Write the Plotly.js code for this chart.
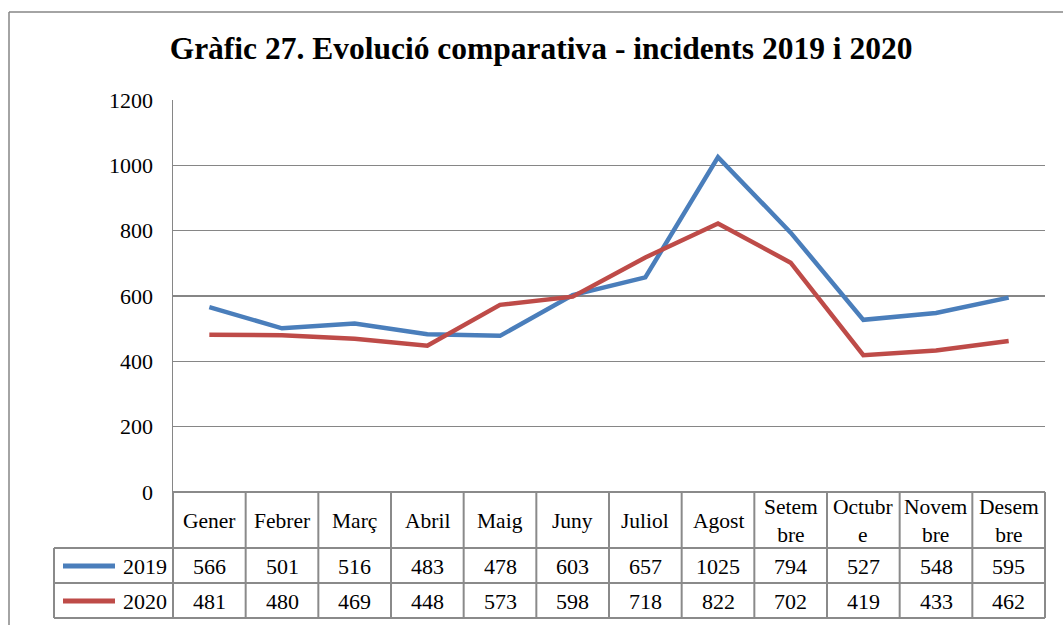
<!DOCTYPE html>
<html><head><meta charset="utf-8">
<script src="https://cdn.plot.ly/plotly-3.0.1.min.js"></script>
<style>html,body{margin:0;padding:0;background:#fff}</style>
</head><body>
<div id="chart" style="width:1063px;height:625px"></div>
<script>
const months = ["Gener","Febrer","Març","Abril","Maig","Juny","Juliol","Agost","Setembre","Octubre","Novembre","Desembre"];
const headerLabels = ["Gener","Febrer","Març","Abril","Maig","Juny","Juliol","Agost","Setem<br>bre","Octubr<br>e","Novem<br>bre","Desem<br>bre"];
const series2019 = [566,501,516,483,478,603,657,1025,794,527,548,595];
const series2020 = [481,480,469,448,573,598,718,822,702,419,433,462];
const seriesNames = ["2019","2020"];
const colors = ["#4a7ebb","#be4b48"];

const FONT = "Liberation Serif, Times New Roman, serif";
const W = 1063, H = 625, L = 173, R = 18, T = 100, B = 133;
const pw = W - L - R, ph = H - T - B;
const px = v => (v - L) / pw;          // pixel x -> paper
const py = v => (H - B - v) / ph;      // pixel y -> paper
const gridCol = "#868686", tableCol = "#8a8a8a";

const traces = [series2019, series2020].map((s, k) => ({
  x: months, y: s, type: "scatter", mode: "lines", name: seriesNames[k],
  line: {color: colors[k], width: 4.5}, hoverinfo: "x+y"
}));

const shapes = [];
const annotations = [];
// chart frame
shapes.push({type:"line", xref:"paper", yref:"paper", x0:px(9), x1:px(1063), y0:py(12), y1:py(12), line:{color:gridCol,width:1.5}});
shapes.push({type:"line", xref:"paper", yref:"paper", x0:px(9), x1:px(9), y0:py(12), y1:py(625), line:{color:gridCol,width:1.5}});

const rowY = [py(548), py(583), py(618)];
// horizontal table lines
shapes.push({type:"line", xref:"paper", yref:"paper", x0:0, x1:1, y0:0, y1:0, line:{color:tableCol,width:2}});
rowY.forEach(y => shapes.push({type:"line", xref:"paper", yref:"paper", x0:px(54), x1:1, y0:y, y1:y, line:{color:tableCol,width:2}}));
// vertical table lines
for (let i = 0; i <= months.length; i++) {
  const xp = i / months.length;
  shapes.push({type:"line", xref:"paper", yref:"paper", x0:xp, x1:xp, y0:0, y1:rowY[2], line:{color:tableCol,width:2}});
}
shapes.push({type:"line", xref:"paper", yref:"paper", x0:px(54), x1:px(54), y0:rowY[0], y1:rowY[2], line:{color:tableCol,width:2}});

// header labels
months.forEach((m, i) => {
  annotations.push({x:m, xref:"x", yref:"paper", y:py(521), text:headerLabels[i], showarrow:false,
    font:{family:FONT, size:21.5, color:"#000"}, yanchor:"middle", xanchor:"center"});
});
// value rows
[series2019, series2020].forEach((s, k) => {
  const yc = py(566 + 35*k);
  s.forEach((v, i) => annotations.push({x:months[i], xref:"x", yref:"paper", y:yc, text:String(v), showarrow:false,
    font:{family:FONT, size:22, color:"#000"}, yanchor:"middle", xanchor:"center"}));
  shapes.push({type:"line", xref:"paper", yref:"paper", x0:px(63), x1:px(115), y0:yc, y1:yc, line:{color:colors[k], width:5}});
  annotations.push({x:px(169), xref:"paper", yref:"paper", y:yc, text:seriesNames[k], showarrow:false,
    font:{family:FONT, size:22, color:"#000"}, xanchor:"right", yanchor:"middle"});
});

const layout = {
  width: W, height: H,
  margin: {l:L, r:R, t:T, b:B},
  paper_bgcolor: "#fff", plot_bgcolor: "#fff",
  showlegend: false,
  title: {text:"<b>Gràfic 27. Evolució comparativa - incidents 2019 i 2020</b>", x:0.509, xanchor:"center", y:0.924, yanchor:"middle",
    font:{family:FONT, size:31.5, color:"#000"}},
  xaxis: {range:[-0.5, 11.5], showticklabels:false, showgrid:false, zeroline:false, showline:false, ticks:""},
  yaxis: {range:[0,1200], dtick:200, tick0:0, showgrid:true, gridcolor:gridCol, gridwidth:1.5, zeroline:false,
    showline:true, linecolor:gridCol, linewidth:1.5, ticks:"", ticklabelstandoff:14,
    tickfont:{family:FONT, size:22, color:"#000"}},
  shapes: shapes, annotations: annotations
};
Plotly.newPlot("chart", traces, layout, {displayModeBar:false, staticPlot:true});
</script>
</body></html>
